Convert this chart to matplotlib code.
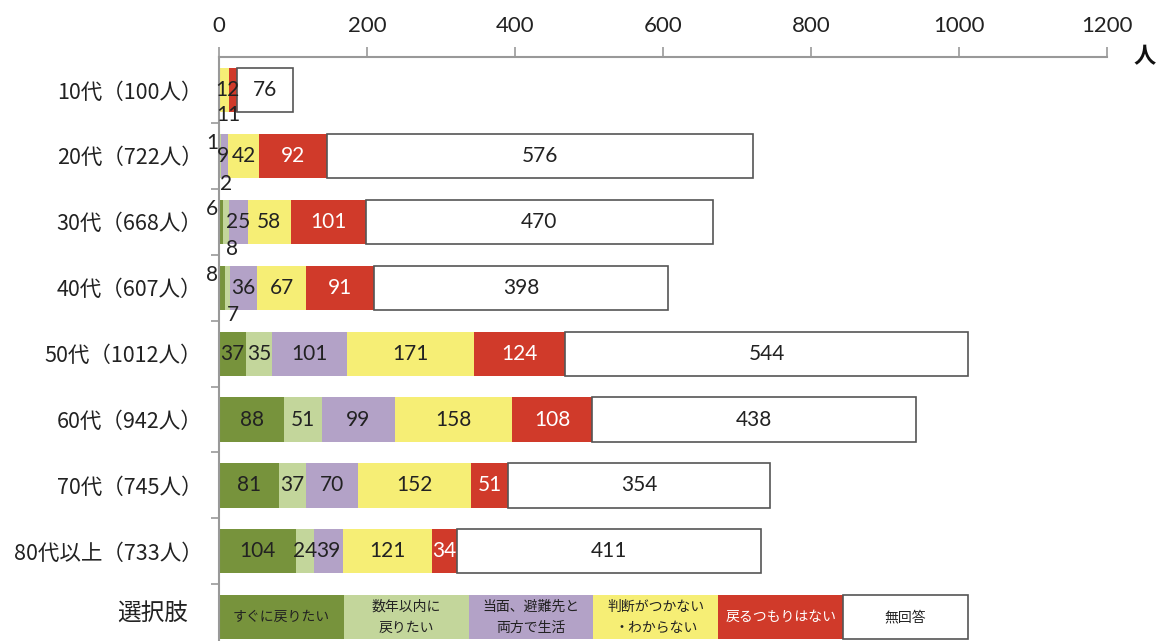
import matplotlib
matplotlib.use("Agg")
import matplotlib.pyplot as plt
from matplotlib import font_manager
import numpy as np

plt.rcParams['font.family'] = ['Noto Sans CJK JP', 'DejaVu Sans']
names = {f.name for f in font_manager.fontManager.ttflist}
num_font = 'Liberation Sans Narrow' if 'Liberation Sans Narrow' in names else 'Lato'
bar_font = 'Lato' if 'Lato' in names else 'Noto Sans CJK JP'

categories = ["10代（100人）", "20代（722人）", "30代（668人）", "40代（607人）",
              "50代（1012人）", "60代（942人）", "70代（745人）", "80代以上（733人）"]
legend_title = "選択肢"
series_names = ["すぐに戻りたい", "数年以内に\n戻りたい", "当面、避難先と\n両方で生活",
                "判断がつかない\n・わからない", "戻るつもりはない", "無回答"]
immediate = [0, 1, 6, 8, 37, 88, 81, 104]
few_years = [0, 2, 8, 7, 35, 51, 37, 24]
both_places = [1, 9, 25, 36, 101, 99, 70, 39]
undecided = [12, 42, 58, 67, 171, 158, 152, 121]
not_return = [11, 92, 101, 91, 124, 108, 51, 34]
no_answer = [76, 576, 470, 398, 544, 438, 354, 411]
xticks = [0, 200, 400, 600, 800, 1000, 1200]
legend_total = 1012

colors = ["#77933C", "#C3D69B", "#B3A2C7", "#F6EE75", "#D03A2A", "#FFFFFF"]
text_colors = ["#222222", "#222222", "#222222", "#222222", "#FFFFFF", "#222222"]
series = [immediate, few_years, both_places, undecided, not_return, no_answer]

fig = plt.figure(figsize=(11.61, 6.41), dpi=100)
ax = fig.add_axes([219/1161, 0, (1107-219)/1161, 1 - 57/641])

ypos = np.arange(len(categories))
h = 0.67
fs = 15
left = np.zeros(len(categories))


def lab(x, y, s, color="#222222"):
    ax.text(x, y, s, ha="center", va="center", fontsize=fs, color=color,
            family=[bar_font, 'DejaVu Sans'], zorder=3)


for si, vals in enumerate(series):
    vals = np.array(vals, dtype=float)
    ec = "#555555" if si == 5 else "none"
    ax.barh(ypos, vals, left=left, height=h, color=colors[si], edgecolor=ec,
            linewidth=1.2 if si == 5 else 0, zorder=2)
    for i, v in enumerate(vals):
        if v <= 0:
            continue
        cx = left[i] + v / 2
        cy = ypos[i]
        s = f"{int(v)}"
        if i == 0 and si == 2:
            continue
        if i in (1, 2, 3) and si == 0:
            lab(-9, cy - 0.2, s)
            continue
        if i in (1, 2, 3) and si == 1:
            lab(cx + 7, cy + 0.42, s)
            continue
        if i == 0 and si == 4:
            lab(cx - 6, cy + 0.38, s)
            continue
        if i == 0 and si == 3:
            lab(cx + 5, cy, s)
            continue
        if i == 1 and si == 2:
            lab(cx - 2, cy, s)
            continue
        lab(cx, cy, s, text_colors[si])
    left += vals

# legend row (選択肢)
ly = len(categories)
w = legend_total / 6
for si in range(6):
    ax.barh(ly, w, left=si * w, height=h, color=colors[si],
            edgecolor="#555555" if si == 5 else "none",
            linewidth=1.2 if si == 5 else 0, zorder=2)
    ax.text(si * w + w / 2, ly, series_names[si], ha="center", va="center",
            fontsize=10, color=text_colors[si], linespacing=1.6, zorder=3)

ax.set_xlim(0, 1200)
ax.set_ylim(len(categories) + 0.36, -0.5)
ax.xaxis.tick_top()
ax.set_xticks(xticks)
ax.set_xticklabels([str(t) for t in xticks], fontsize=16, color="#222222",
                   family=[num_font, 'DejaVu Sans'])
ax.tick_params(axis="x", length=7, color="#999999", width=1.2, pad=8, direction="out")

ax.set_yticks(ypos.tolist())
ax.set_yticklabels(categories, fontsize=15.5, color="#222222")
ax.tick_params(axis="y", length=0, pad=12)
ax.set_yticks(np.arange(0.5, len(categories) + 0.5, 1.0), minor=True)
ax.tick_params(axis="y", which="minor", length=6, color="#999999", width=1.2)

# 選択肢 label
fig.text(153/1161, 1 - 614/641, legend_title, ha="center", va="center",
         fontsize=17, color="#222222")

for s in ["right", "bottom"]:
    ax.spines[s].set_visible(False)
ax.spines["top"].set_color("#999999")
ax.spines["top"].set_linewidth(1.5)
ax.spines["left"].set_color("#999999")
ax.spines["left"].set_linewidth(1.5)

fig.text(1145/1161, 1 - 57/641, "人", ha="center", va="center", fontsize=16,
         fontweight="bold", color="#111111")

fig.savefig("out.png", dpi=100)
